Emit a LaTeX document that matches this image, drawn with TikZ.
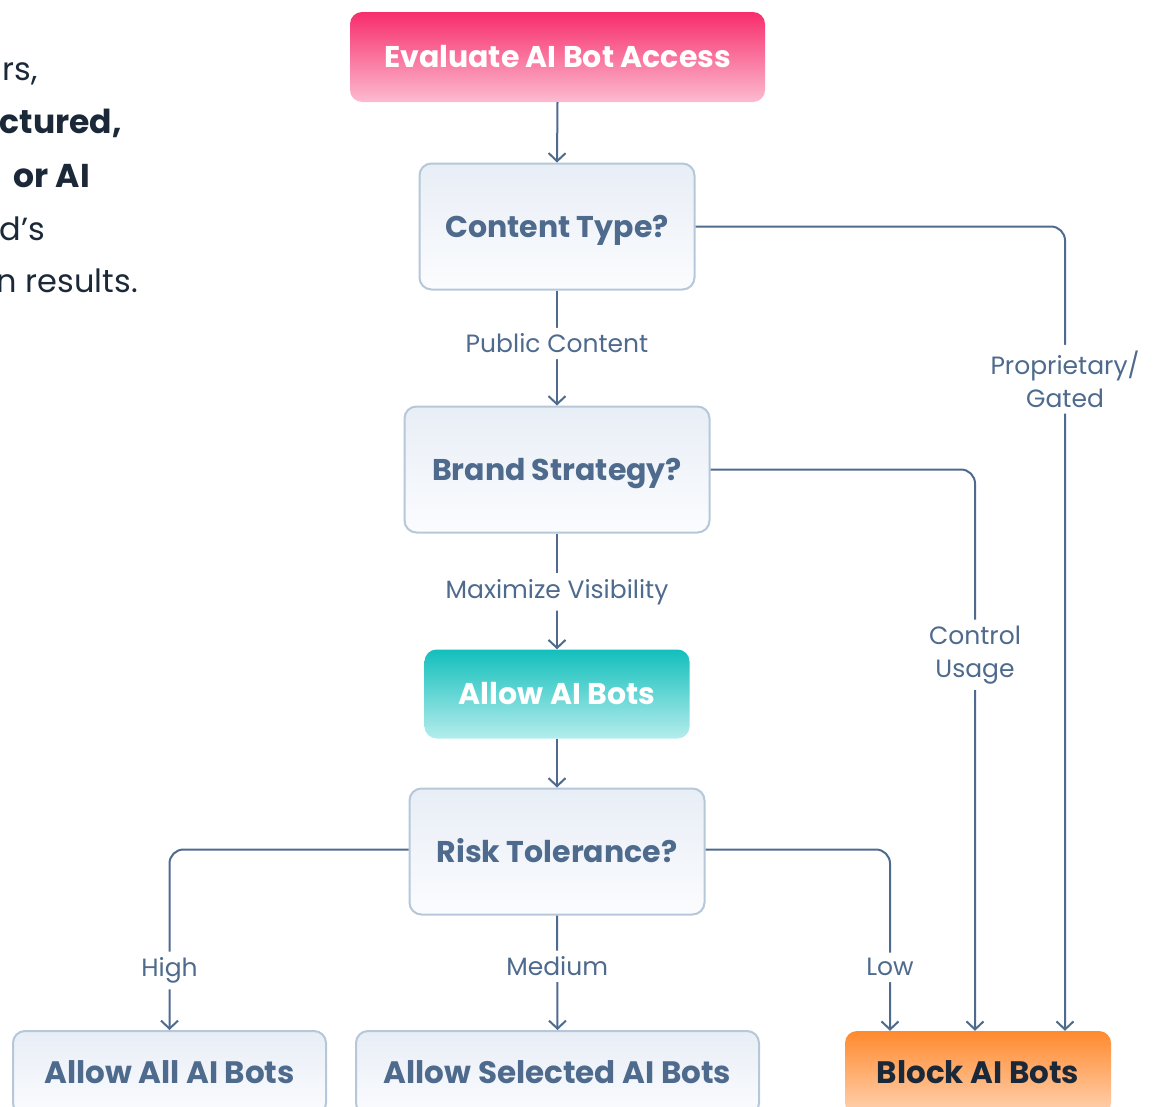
\documentclass[tikz,border=0pt]{standalone}
\usepackage{fontspec}
\setmainfont{Poppins}
\usetikzlibrary{arrows.meta,calc}
\definecolor{linec}{HTML}{4E6A8D}
\definecolor{txtc}{HTML}{4E6A8D}
\definecolor{darkc}{HTML}{1B2838}
\definecolor{dtop}{HTML}{E8EEF6}
\definecolor{dbot}{HTML}{FBFCFE}
\definecolor{bordc}{HTML}{B5C7D9}
\definecolor{ptop}{HTML}{F72D6C}
\definecolor{pbot}{HTML}{FCBBD0}
\definecolor{ttop}{HTML}{12BFBC}
\definecolor{tbot}{HTML}{B5EDEC}
\definecolor{otop}{HTML}{FF8A2E}
\definecolor{obot}{HTML}{FFD3B2}
\tikzset{
  decision/.style={rectangle, rounded corners=12pt, draw=bordc, line width=2pt,
    top color=dtop, bottom color=dbot, minimum height=126pt,
    font=\fontsize{30}{36}\selectfont\bfseries, text=txtc, inner sep=0pt,
    text height=21pt, text depth=0pt},
  terminal/.style={rectangle, rounded corners=12pt, minimum height=90pt,
    font=\fontsize{30}{36}\selectfont\bfseries, text=white, inner sep=0pt,
    text height=21pt, text depth=0pt},
  conn/.style={draw=linec, line width=2pt, rounded corners=14pt},
  arr/.style={-{Straight Barb[length=8pt,width=17pt]}},
  lbl/.style={fill=white, text=txtc, font=\fontsize{25}{33}\selectfont, inner sep=6pt, align=center},
  sidetxt/.style={anchor=base east, text=darkc, font=\fontsize{32}{38}\selectfont, inner sep=0pt},
  sidebold/.style={sidetxt, font=\fontsize{33}{38}\selectfont\bfseries}
}
\begin{document}
\begin{tikzpicture}[x=1pt,y=-1pt]
\useasboundingbox (0,0) rectangle (1162,1106);
\clip (0,0) rectangle (1162,1106);

% side text (cropped paragraph)
\node[sidetxt] (s1) at (38,80) {rs,};
\node[sidebold] (s2) at (122,133) {ctured,};
\node[sidebold] (s3) at (90,187) {or AI};
\node[sidetxt] (s4) at (45,240) {d’s};
\node[sidetxt] (s5) at (138,292) {n results.};

% nodes
\node[terminal, top color=ptop, bottom color=pbot, minimum width=415pt] (eval) at (557.5,57) {Evaluate AI Bot Access};
\node[decision, minimum width=275pt] (ct) at (557,226.5) {Content Type?};
\node[decision, minimum width=305pt] (bs) at (557,469.5) {Brand Strategy?};
\node[terminal, top color=ttop, bottom color=tbot, minimum width=265pt, minimum height=89pt] (allow) at (557,694) {Allow AI Bots};
\node[decision, minimum width=295pt] (rt) at (557,851.5) {Risk Tolerance?};
\node[decision, minimum width=313pt, minimum height=84pt, font=\fontsize{31}{36}\selectfont\bfseries] (aall) at (169.5,1073) {Allow All AI Bots};
\node[decision, minimum width=403pt, minimum height=84pt, font=\fontsize{31}{36}\selectfont\bfseries] (asel) at (557.5,1073) {Allow Selected AI Bots};
\node[terminal, top color=otop, bottom color=obot, minimum width=266pt, minimum height=84pt, text=darkc, font=\fontsize{31}{36}\selectfont\bfseries] (block) at (978,1073) {Block AI Bots};

% connectors
\draw[conn, arr] (eval.south) -- (ct.north);
\draw[conn, arr] (ct.south) -- node[lbl, pos=0.46] {Public Content} (bs.north);
\draw[conn, arr] (ct.east) -| node[lbl, pos=0.595] {Proprietary/\\Gated} ([xshift=87pt]block.north);
\draw[conn, arr] (bs.south) -- node[lbl, pos=0.504] {Maximize Visibility} (allow.north);
\draw[conn, arr] (bs.east) -| node[lbl, pos=0.665] {Control\\Usage} ([xshift=-3pt]block.north);
\draw[conn, arr] (allow.south) -- (rt.north);
\draw[conn, arr] ([yshift=2pt]rt.west) -| node[lbl, pos=0.835] {High} (aall.north);
\draw[conn, arr] (rt.south) -- node[lbl, pos=0.444] {Medium} (asel.north);
\draw[conn, arr] ([yshift=2pt]rt.east) -| node[lbl, pos=0.825] {Low} ([xshift=-88pt]block.north);
\end{tikzpicture}
\end{document}
